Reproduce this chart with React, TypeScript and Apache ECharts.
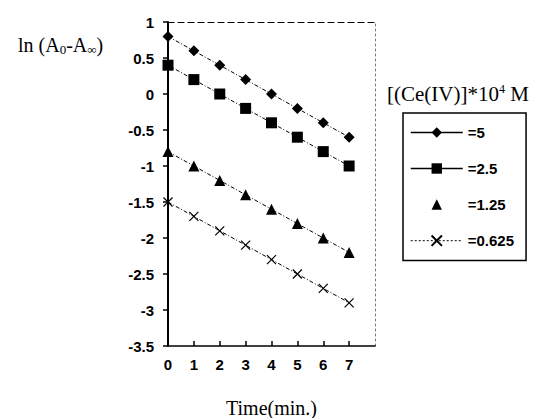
import React, { useEffect, useRef } from "react";
import * as echarts from "echarts";

const timeMin = [0, 1, 2, 3, 4, 5, 6, 7];
const ce5 = [0.8, 0.6, 0.4, 0.2, 0, -0.2, -0.4, -0.6];
const ce25 = [0.4, 0.2, 0, -0.2, -0.4, -0.6, -0.8, -1.0];
const ce125 = [-0.8, -1.0, -1.2, -1.4, -1.6, -1.8, -2.0, -2.2];
const ce0625 = [-1.5, -1.7, -1.9, -2.1, -2.3, -2.5, -2.7, -2.9];
const seriesNames = ["=5", "=2.5", "=1.25", "=0.625"];

const pairs = (ys: number[]) => timeMin.map((t, i) => [t, ys[i]]);

export default function App() {
  const ref = useRef<HTMLDivElement>(null);
  useEffect(() => {
    if (!ref.current) return;
    const chart = echarts.init(ref.current, null, { renderer: "svg" });
    const serif = "Liberation Serif";
    const sans = "Liberation Sans";
    const dashDot = [4, 2, 1, 2];
    const crossPath = "path://M0,0L10,10M10,0L0,10";
    chart.setOption({
      animation: false,
      backgroundColor: "#ffffff",
      title: [
        {
          text: "ln (A{s|0}-A{s|∞})",
          left: 13,
          top: 29,
          textStyle: {
            fontFamily: serif,
            fontSize: 20,
            fontWeight: "normal",
            color: "#000",
            rich: { s: { fontFamily: serif, fontSize: 13, color: "#000", verticalAlign: "bottom", padding: [9, 0, 0, 0] } },
          },
        },
        {
          text: "[(Ce(IV)]*10{p|4} M",
          left: 382,
          top: 78,
          textStyle: {
            fontFamily: serif,
            fontSize: 21,
            fontWeight: "normal",
            color: "#000",
            rich: { p: { fontFamily: serif, fontSize: 12, color: "#000", verticalAlign: "top", padding: [0, 0, 9, 0] } },
          },
        },
      ],
      legend: {
        orient: "vertical",
        left: 403,
        top: 113,
        padding: [12, 12, 12, 7],
        itemGap: 21,
        itemWidth: 52,
        itemHeight: 13,
        borderColor: "#000",
        borderWidth: 1.5,
        textStyle: { fontFamily: sans, fontSize: 15, fontWeight: "bold", color: "#000" },
        data: [
          { name: seriesNames[0], lineStyle: { type: "solid", width: 1.5 } },
          { name: seriesNames[1], lineStyle: { type: "solid", width: 1.5 } },
          { name: seriesNames[2], lineStyle: { width: 0, opacity: 0 } },
          { name: seriesNames[3], lineStyle: { type: [2, 2], width: 1 } },
        ],
      },
      grid: { left: 168, top: 22, width: 207, height: 324, outerBoundsMode: "none", containLabel: false },
      xAxis: [
        {
          type: "value",
          min: 0,
          max: 8,
          interval: 1,
          name: "Time(min.)",
          nameLocation: "middle",
          nameGap: 52,
          nameTextStyle: { fontFamily: serif, fontSize: 20, color: "#000" },
          axisLine: { onZero: false, lineStyle: { color: "#000", width: 1.5 } },
          axisTick: { inside: true, length: 5, lineStyle: { color: "#000", width: 1.5 } },
          axisLabel: {
            showMaxLabel: false,
            margin: 11,
            fontFamily: sans,
            fontSize: 15,
            fontWeight: "bold",
            color: "#000",
          },
          splitLine: { show: false },
        },
        {
          type: "value",
          position: "top",
          min: 0,
          max: 8,
          interval: 1,
          axisLine: { onZero: false, lineStyle: { color: "#000", width: 1.2, type: [6, 4] } },
          axisTick: { show: false },
          axisLabel: { show: false },
          splitLine: { show: false },
        },
      ],
      yAxis: [
        {
          type: "value",
          min: -3.5,
          max: 1,
          interval: 0.5,
          axisLine: { onZero: false, lineStyle: { color: "#000", width: 2 } },
          axisTick: { length: 5, lineStyle: { color: "#000", width: 1.5 } },
          axisLabel: {
            margin: 14,
            fontFamily: sans,
            fontSize: 15,
            fontWeight: "bold",
            color: "#000",
          },
          splitLine: { show: false },
        },
        {
          type: "value",
          position: "right",
          min: -3.5,
          max: 1,
          interval: 0.5,
          axisLine: { onZero: false, lineStyle: { color: "#777", width: 1, type: [2, 3] } },
          axisTick: { show: false },
          axisLabel: { show: false },
          splitLine: { show: false },
        },
      ],
      series: [
        {
          name: seriesNames[0],
          type: "line",
          data: pairs(ce5),
          symbol: "diamond",
          symbolSize: 11,
          itemStyle: { color: "#000" },
          lineStyle: { color: "#000", width: 1, type: dashDot },
        },
        {
          name: seriesNames[1],
          type: "line",
          data: pairs(ce25),
          symbol: "rect",
          symbolSize: 11,
          itemStyle: { color: "#000" },
          lineStyle: { color: "#000", width: 1, type: dashDot },
        },
        {
          name: seriesNames[2],
          type: "line",
          data: pairs(ce125),
          symbol: "triangle",
          symbolSize: 11,
          itemStyle: { color: "#000" },
          lineStyle: { color: "#000", width: 1, type: dashDot },
        },
        {
          name: seriesNames[3],
          type: "line",
          data: pairs(ce0625),
          symbol: crossPath,
          symbolSize: 9,
          itemStyle: { color: "none", borderColor: "#000", borderWidth: 1.2 },
          lineStyle: { color: "#000", width: 1, type: dashDot },
        },
      ],
    });
    return () => chart.dispose();
  }, []);
  return (
    <div
      ref={ref}
      style={{ position: "fixed", left: 0, top: 0, width: 557, height: 418 }}
    />
  );
}
